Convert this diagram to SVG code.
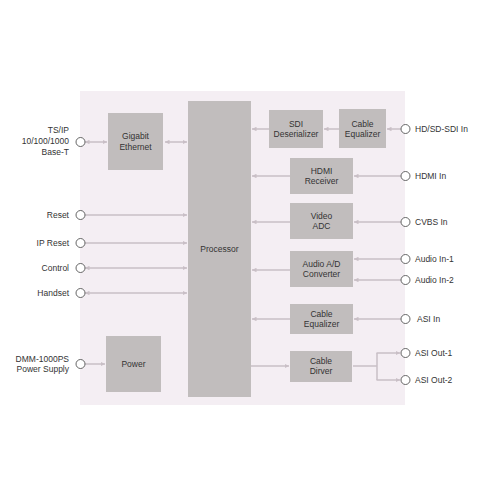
<svg xmlns="http://www.w3.org/2000/svg" width="500" height="500" viewBox="0 0 500 500">
<style>
.box{fill:#c1bdbd}
.t{font-family:"Liberation Sans",Arial,sans-serif;font-size:8.5px;fill:#333}
.bt{font-family:"Liberation Sans",Arial,sans-serif;font-size:8.5px;fill:#333;text-anchor:middle}
.c{fill:#fff;stroke:#555;stroke-width:0.9}
.ln{stroke:#c9bfc6;stroke-width:1.5;fill:none}
</style>
<defs>
<marker id="ah" viewBox="0 0 10 10" refX="10" refY="5" markerWidth="4.5" markerHeight="4.5" orient="auto-start-reverse" markerUnits="userSpaceOnUse">
<path d="M0,0 L10,5 L0,10 z" fill="#c9bfc6"/>
</marker>
</defs>
<rect x="0" y="0" width="500" height="500" fill="#fff"/>
<rect x="80" y="91" width="325" height="314" fill="#f4eef3"/>

<g id="connectors">
<line class="ln" x1="85" y1="142" x2="107" y2="142" marker-start="url(#ah)" marker-end="url(#ah)"/>
<line class="ln" x1="165" y1="142" x2="187" y2="142" marker-start="url(#ah)" marker-end="url(#ah)"/>
<line class="ln" x1="85" y1="215" x2="187" y2="215" marker-end="url(#ah)"/>
<line class="ln" x1="85" y1="243" x2="187" y2="243" marker-end="url(#ah)"/>
<line class="ln" x1="85" y1="268" x2="187" y2="268" marker-start="url(#ah)" marker-end="url(#ah)"/>
<line class="ln" x1="85" y1="293" x2="187" y2="293" marker-start="url(#ah)" marker-end="url(#ah)"/>
<line class="ln" x1="85" y1="364" x2="105" y2="364" marker-end="url(#ah)"/>

<line class="ln" x1="401" y1="129" x2="387" y2="129" marker-end="url(#ah)"/>
<line class="ln" x1="339" y1="129" x2="324" y2="129" marker-end="url(#ah)"/>
<line class="ln" x1="269" y1="129" x2="252" y2="129" marker-end="url(#ah)"/>

<line class="ln" x1="401" y1="176" x2="354" y2="176" marker-end="url(#ah)"/>
<line class="ln" x1="290" y1="176" x2="252" y2="176" marker-end="url(#ah)"/>

<line class="ln" x1="401" y1="222" x2="354" y2="222" marker-end="url(#ah)"/>
<line class="ln" x1="290" y1="222" x2="252" y2="222" marker-end="url(#ah)"/>

<line class="ln" x1="401" y1="259" x2="354" y2="259" marker-end="url(#ah)"/>
<line class="ln" x1="401" y1="280" x2="354" y2="280" marker-end="url(#ah)"/>
<line class="ln" x1="290" y1="270" x2="252" y2="270" marker-end="url(#ah)"/>

<line class="ln" x1="401" y1="319" x2="354" y2="319" marker-end="url(#ah)"/>
<line class="ln" x1="290" y1="319" x2="252" y2="319" marker-end="url(#ah)"/>

<line class="ln" x1="251" y1="366" x2="289" y2="366" marker-end="url(#ah)"/>
<line class="ln" x1="353" y1="366" x2="377" y2="366"/>
<path class="ln" d="M377,353 V380"/>
<line class="ln" x1="376.5" y1="353" x2="400" y2="353" marker-end="url(#ah)"/>
<line class="ln" x1="376.5" y1="380" x2="400" y2="380" marker-end="url(#ah)"/>
</g>

<g id="gigabit">
<rect class="box" x="108" y="113" width="55" height="57"/>
<text class="bt" x="135.5" y="139">Gigabit</text>
<text class="bt" x="135.5" y="149.5">Ethernet</text>
</g>
<g id="processor">
<rect class="box" x="188" y="101" width="63" height="296"/>
<text class="bt" x="219.5" y="251.5">Processor</text>
</g>
<g id="power">
<rect class="box" x="106" y="336" width="55" height="56"/>
<text class="bt" x="133.5" y="367">Power</text>
</g>
<g id="sdi-deserializer">
<rect class="box" x="269" y="110" width="54" height="38"/>
<text class="bt" x="296" y="126.5">SDI</text>
<text class="bt" x="296" y="137">Deserializer</text>
</g>
<g id="cable-equalizer-1">
<rect class="box" x="339" y="109" width="47" height="39"/>
<text class="bt" x="362.5" y="126.5">Cable</text>
<text class="bt" x="362.5" y="137">Equalizer</text>
</g>
<g id="hdmi-receiver">
<rect class="box" x="290" y="158" width="63" height="36"/>
<text class="bt" x="321.5" y="173.5">HDMI</text>
<text class="bt" x="321.5" y="184">Receiver</text>
</g>
<g id="video-adc">
<rect class="box" x="290" y="203" width="63" height="36"/>
<text class="bt" x="321.5" y="218.5">Video</text>
<text class="bt" x="321.5" y="229">ADC</text>
</g>
<g id="audio-ad">
<rect class="box" x="290" y="251" width="63" height="36"/>
<text class="bt" x="321.5" y="266.5">Audio A/D</text>
<text class="bt" x="321.5" y="277">Converter</text>
</g>
<g id="cable-equalizer-2">
<rect class="box" x="290" y="304" width="63" height="30"/>
<text class="bt" x="321.5" y="316.5">Cable</text>
<text class="bt" x="321.5" y="327">Equalizer</text>
</g>
<g id="cable-driver">
<rect class="box" x="290" y="351" width="62" height="31"/>
<text class="bt" x="321" y="363.5">Cable</text>
<text class="bt" x="321" y="374">Dirver</text>
</g>

<g id="port-tsip">
<circle class="c" cx="80.5" cy="142" r="4.5"/>
<text class="t" text-anchor="end" x="69" y="133">TS/IP</text>
<text class="t" text-anchor="end" x="69" y="144">10/100/1000</text>
<text class="t" text-anchor="end" x="69" y="154.5">Base-T</text>
</g>
<g id="port-reset">
<circle class="c" cx="80.5" cy="215" r="4.5"/>
<text class="t" text-anchor="end" x="69" y="218">Reset</text>
</g>
<g id="port-ipreset">
<circle class="c" cx="80.5" cy="243" r="4.5"/>
<text class="t" text-anchor="end" x="69" y="246">IP Reset</text>
</g>
<g id="port-control">
<circle class="c" cx="80.5" cy="268" r="4.5"/>
<text class="t" text-anchor="end" x="69" y="271">Control</text>
</g>
<g id="port-handset">
<circle class="c" cx="80.5" cy="293" r="4.5"/>
<text class="t" text-anchor="end" x="69" y="296">Handset</text>
</g>
<g id="port-power">
<circle class="c" cx="80.5" cy="364" r="4.5"/>
<text class="t" text-anchor="end" x="69" y="362">DMM-1000PS</text>
<text class="t" text-anchor="end" x="69" y="372">Power Supply</text>
</g>

<g id="port-sdi">
<circle class="c" cx="405.5" cy="129" r="4.5"/>
<text class="t" x="415" y="132">HD/SD-SDI In</text>
</g>
<g id="port-hdmi">
<circle class="c" cx="405.5" cy="176" r="4.5"/>
<text class="t" x="415" y="179">HDMI In</text>
</g>
<g id="port-cvbs">
<circle class="c" cx="405.5" cy="222" r="4.5"/>
<text class="t" x="415" y="225">CVBS In</text>
</g>
<g id="port-audio1">
<circle class="c" cx="405.5" cy="259" r="4.5"/>
<text class="t" x="415" y="262">Audio In-1</text>
</g>
<g id="port-audio2">
<circle class="c" cx="405.5" cy="280" r="4.5"/>
<text class="t" x="415" y="283">Audio In-2</text>
</g>
<g id="port-asiin">
<circle class="c" cx="405.5" cy="319" r="4.5"/>
<text class="t" x="417" y="322">ASI In</text>
</g>
<g id="port-asiout1">
<circle class="c" cx="405.5" cy="353" r="4.5"/>
<text class="t" x="415" y="356">ASI Out-1</text>
</g>
<g id="port-asiout2">
<circle class="c" cx="405.5" cy="380" r="4.5"/>
<text class="t" x="415" y="383">ASI Out-2</text>
</g>
</svg>
